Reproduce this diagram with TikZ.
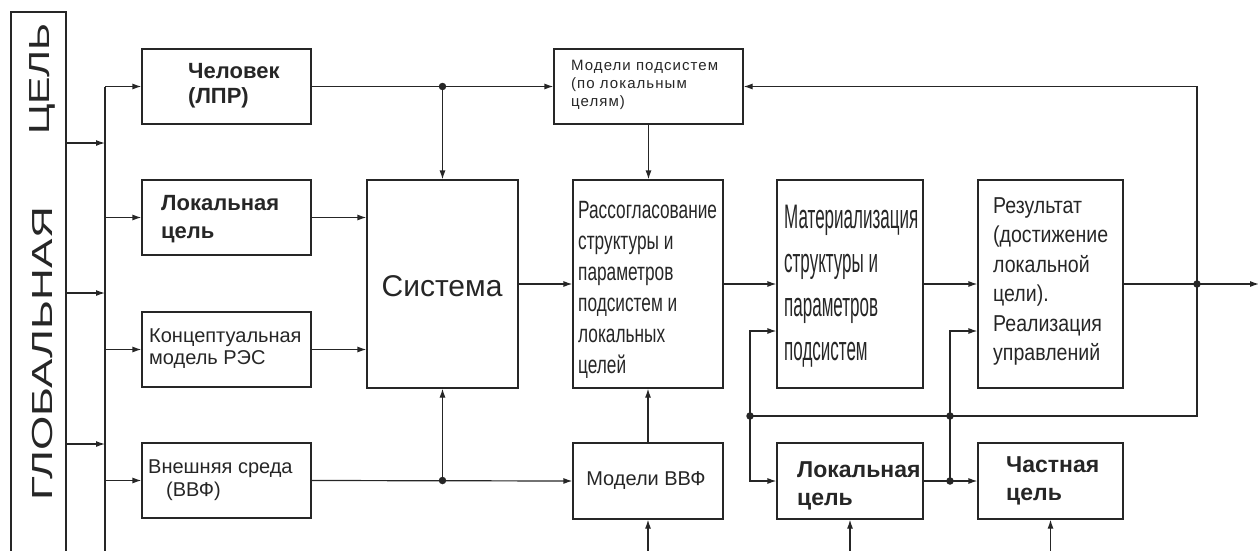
\documentclass[tikz,border=0pt]{standalone}
\usepackage{fontspec}
\setmainfont{Liberation Sans}
\newfontfamily\nrwA[FakeStretch=0.69]{Liberation Sans}
\newfontfamily\nrwB[FakeStretch=0.5]{Liberation Sans}
\newfontfamily\nrwC[FakeStretch=0.85]{Liberation Sans}
\newfontfamily\wideG[FakeStretch=1.42]{Liberation Sans}
\newfontfamily\wideH[FakeStretch=1.52]{Liberation Sans}
\newfontfamily\spacedF[LetterSpace=7]{Liberation Sans}
\usetikzlibrary{arrows.meta}
\tikzset{
  blk/.style={draw=black!85, line width=1.2pt, minimum width=#1, inner sep=0pt},
  ln/.style={draw=black!85, line width=1.2pt},
  arr/.style={ln, -{Latex[length=9pt,width=6pt]}},
  txt/.style={anchor=west, align=left, inner sep=0pt, text=black!85},
  dotc/.style={circle, fill=black!85, inner sep=0pt, minimum size=7.5pt}
}
\begin{document}
\begin{tikzpicture}[x=1pt,y=-1pt]
\useasboundingbox (0,0) rectangle (1258,551);
\clip (0,0) rectangle (1258,551);
% global box
\node[blk=55pt, minimum height=588pt] (glob) at (38.5,306) {};
\node[rotate=90, inner sep=0pt, text=black!85, font=\wideG\fontsize{29}{30}\selectfont] (gtop) at (42.5,79) {ЦЕЛЬ};
\node[rotate=90, inner sep=0pt, text=black!85, font=\wideH\fontsize{29}{30}\selectfont] (gbot) at (42.5,354) {ГЛОБАЛЬНАЯ};
% boxes
\node[blk=169pt, minimum height=75pt] (chel) at (226.5,86.5) {};
\node[blk=169pt, minimum height=75pt] (lok1) at (226.5,217.5) {};
\node[blk=169pt, minimum height=75pt] (konc) at (226.5,349.5) {};
\node[blk=169pt, minimum height=75pt] (vnesh) at (226.5,480.5) {};
\node[blk=151pt, minimum height=208pt] (sys) at (442.5,284) {};
\node[blk=189pt, minimum height=75pt] (modsub) at (648.5,86.5) {};
\node[blk=150pt, minimum height=208pt] (rass) at (648,284) {};
\node[blk=150pt, minimum height=76pt] (modvvf) at (648,481) {};
\node[blk=146pt, minimum height=208pt] (mat) at (850,284) {};
\node[blk=145pt, minimum height=208pt] (res) at (1050.5,284) {};
\node[blk=146pt, minimum height=76pt] (lok2) at (850,481) {};
\node[blk=145pt, minimum height=76pt] (chast) at (1050.5,481) {};
% texts
\node[txt, font=\bfseries\fontsize{22}{25}\selectfont] (tchel) at (188,86) {Человек\\(ЛПР)};
\node[txt, font=\bfseries\fontsize{22}{28}\selectfont] (tlok1) at (161,219) {Локальная\\цель};
\node[txt, font=\fontsize{20}{22}\selectfont] (tkonc) at (149,349) {Концептуальная\\модель РЭС};
\node[txt, font=\fontsize{20}{23}\selectfont] (tvnesh) at (148,480.5) {Внешняя среда\\\hspace*{18pt}(ВВФ)};
\node[inner sep=0pt, text=black!85, font=\fontsize{30}{32}\selectfont] (tsys) at (442,286) {Система};
\node[txt, font=\spacedF\fontsize{15}{18}\selectfont] (tmodsub) at (571,85) {Модели подсистем\\(по локальным\\целям)};
\node[txt, font=\nrwA\fontsize{25}{31}\selectfont] (trass) at (578,289.5) {Рассогласование\\структуры и\\параметров\\подсистем и\\локальных\\целей};
\node[txt, font=\nrwB\fontsize{34}{44}\selectfont] (tmat) at (784,286) {Материализация\\структуры и\\параметров\\подсистем};
\node[txt, font=\nrwC\fontsize{23}{29.4}\selectfont] (tres) at (993,281.5) {Результат\\(достижение\\локальной\\цели).\\Реализация\\управлений};
\node[inner sep=0pt, text=black!85, font=\fontsize{20}{22}\selectfont] (tmodvvf) at (646,481) {Модели ВВФ};
\node[txt, font=\bfseries\fontsize{23}{28}\selectfont] (tlok2) at (797,486) {Локальная\\цель};
\node[txt, font=\bfseries\fontsize{23}{28}\selectfont] (tchast) at (1006,481) {Частная\\цель};
% coordinates
\coordinate (bustop) at (105,86.5);
\coordinate (busbot) at (105,560);
\coordinate (g1) at (66,143);
\coordinate (g2) at (66,293);
\coordinate (g3) at (66,444);
\coordinate (j1) at (442.5,86.5);
\coordinate (j2) at (442.5,480.5);
\coordinate (j3) at (1197,284);
\coordinate (j4) at (750,416);
\coordinate (j5) at (950,416);
\coordinate (j6) at (950,481);
\coordinate (out) at (1259,284);
\coordinate (b1) at (648,560);
\coordinate (b2) at (850,560);
\coordinate (b3) at (1050.5,560);
% global to bus
\draw[arr] (g1) -- (g1 -| bustop);
\draw[arr] (g2) -- (g2 -| bustop);
\draw[arr] (g3) -- (g3 -| bustop);
\draw[ln] (bustop) -- (busbot);
\draw[arr] (bustop) -- (chel.west);
\draw[arr] (bustop |- lok1.west) -- (lok1.west);
\draw[arr] (bustop |- konc.west) -- (konc.west);
\draw[arr] (bustop |- vnesh.west) -- (vnesh.west);
% left to center
\draw[arr] (chel.east) -- (modsub.west);
\draw[arr] (j1) -- (sys.north);
\draw[arr] (lok1.east) -- (lok1.east -| sys.west);
\draw[arr] (konc.east) -- (konc.east -| sys.west);
\draw[arr] (vnesh.east) -- (modvvf.west);
\draw[arr] (j2) -- (sys.south);
\draw[arr] (sys.east) -- (rass.west);
\draw[arr] (modsub.south) -- (modsub.south |- rass.north);
\draw[arr] (modvvf.north) -- (rass.south);
\draw[arr] (b1) -- (modvvf.south);
% right part
\draw[arr] (rass.east) -- (mat.west);
\draw[arr] (mat.east) -- (res.west);
\draw[arr] (res.east) -- (out);
\draw[arr] (j3) -- (j3 |- modsub.east) -- (modsub.east);
\draw[ln] (j3) -- (j3 |- j4) -- (j4);
\draw[arr] (j4) -- (j4 |- 0,331) -- (mat.west |- 0,331);
\draw[arr] (j4) -- (j4 |- lok2.west) -- (lok2.west);
\draw[arr] (lok2.east) -- (chast.west);
\draw[arr] (j6) -- (j6 |- 0,331) -- (res.west |- 0,331);
\draw[arr] (b2) -- (lok2.south);
\draw[arr] (b3) -- (chast.south);
% dots
\foreach \p in {j1,j2,j3,j4,j5,j6} \node[dotc] at (\p) {};
\end{tikzpicture}
\end{document}
